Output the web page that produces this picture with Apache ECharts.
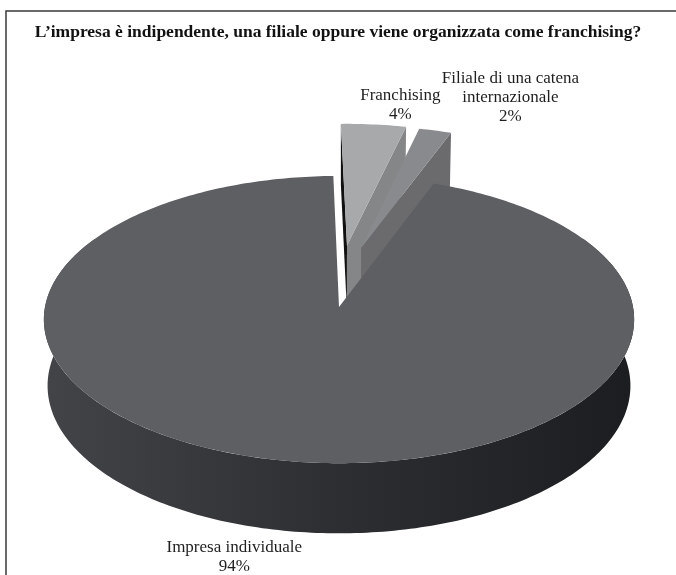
<!DOCTYPE html>
<html>
<head>
<meta charset="utf-8">
<script src="https://cdn.jsdelivr.net/npm/echarts@6/dist/echarts.min.js"></script>
<style>
  html, body { margin: 0; padding: 0; background: #ffffff; }
  #chart { width: 676px; height: 575px; }
</style>
</head>
<body>
<div id="chart"></div>
<script>
// ---- data ----
const titleText = 'L\u2019impresa è indipendente, una filiale oppure viene organizzata come franchising?';
const categories = ['Impresa individuale', 'Franchising', 'Filiale di una catena\ninternazionale'];
const shares = [94, 4, 2];
const exploded = [false, true, true];

// ---- look of the 3D pie ----
const VIEW = {
  cx: 339, cy: 307,      // screen position of the disc centre (top face)
  radius: 294,           // screen scale of a unit radius
  tilt: 29,              // elevation of the viewer, degrees
  focal: 10,             // perspective distance, in radii
  thickness: 0.26,       // disc height, in radii
  firstAngle: 20.4,      // where the first slice starts, degrees clockwise from the back
  explode: 0.45,         // distance pulled out for exploded slices, in radii
  explodeSpread: 0.6     // how much of the sideways component of the pull-out is kept
};
const topColors = ['#5e5f63', '#a8a9ab', '#898a8d'];
const sideStops = [
  { offset: 0, color: '#434448' },
  { offset: 0.5, color: '#2d2e31' },
  { offset: 1, color: '#1c1d20' }
];
const labelNudge = [[-46, 9], [23, -3], [65, -17]];
const labelFont = '17px "Liberation Serif", "Times New Roman", serif';

const rad = d => d * Math.PI / 180;
const sT = Math.sin(rad(VIEW.tilt)), cT = Math.cos(rad(VIEW.tilt));
const cam = { x: 0, z: -VIEW.focal * cT };

// X right, Y up, Z away from the viewer
function proj(X, Y, Z) {
  const yv = Y * cT + Z * sT;
  const d = Z * cT - Y * sT;
  const p = VIEW.focal / (VIEW.focal + d);
  return [VIEW.cx + VIEW.radius * X * p, VIEW.cy - VIEW.radius * yv * p];
}

function shade(hex, k) {
  const n = parseInt(hex.slice(1), 16);
  const c = [(n >> 16) & 255, (n >> 8) & 255, n & 255].map(v => Math.max(0, Math.min(255, Math.round(v * k))));
  return 'rgb(' + c.join(',') + ')';
}

function arc(a1, a2) {
  const steps = Math.max(2, Math.ceil(a2 - a1));
  const out = [];
  for (let s = 0; s <= steps; s++) out.push(a1 + (a2 - a1) * s / steps);
  return out;
}

// slice angles from the shares
const total = shares.reduce((a, b) => a + b, 0);
const geom = [];
let acc = 0;
shares.forEach((v, i) => {
  const a1 = VIEW.firstAngle + acc / total * 360;
  acc += v;
  const a2 = VIEW.firstAngle + acc / total * 360;
  const mid = (a1 + a2) / 2;
  const e = exploded[i] ? VIEW.explode : 0;
  geom.push({
    a1, a2, mid,
    ex: e * Math.sin(rad(mid)) * VIEW.explodeSpread,
    ez: e * Math.cos(rad(mid))
  });
});
// far slices are painted first
const order = geom.map((g, i) => i).sort((a, b) =>
  (geom[b].ez + Math.cos(rad(geom[b].mid))) - (geom[a].ez + Math.cos(rad(geom[a].mid))));

function renderItem(params, api) {
  const i = params.dataIndex;
  const g = geom[i];
  const base = order.indexOf(i) * 10;
  const H = -VIEW.thickness;
  const P = (r, a, y) => proj(g.ex + r * Math.sin(rad(a)), y, g.ez + r * Math.cos(rad(a)));
  const children = [];

  // curved outer wall (front part only)
  const w1 = Math.max(g.a1, 60), w2 = Math.min(g.a2, 300);
  if (w2 > w1) {
    const pts = arc(w1, w2).map(a => P(1, a, 0))
      .concat(arc(w1, w2).reverse().map(a => P(1, a, H)));
    children.push({
      type: 'polygon', z2: base,
      shape: { points: pts },
      style: { fill: new echarts.graphic.LinearGradient(0, 0, 1, 0, sideStops) }
    });
  }

  // radial walls facing the viewer
  [[g.a1, -1], [g.a2, 1]].forEach(([a, sgn]) => {
    const nx = sgn * Math.cos(rad(a)), nz = -sgn * Math.sin(rad(a));
    const mx = g.ex + 0.5 * Math.sin(rad(a)), mz = g.ez + 0.5 * Math.cos(rad(a));
    if (nx * (cam.x - mx) + nz * (cam.z - mz) <= 0) return;
    children.push({
      type: 'polygon', z2: base + 1,
      shape: { points: [P(0, a, 0), P(1, a, 0), P(1, a, H), P(0, a, H)] },
      style: { fill: shade(topColors[i], 0.45 + 0.35 * nx) }
    });
  });

  // top face
  children.push({
    type: 'polygon', z2: base + 2,
    shape: { points: [P(0, g.a1, 0)].concat(arc(g.a1, g.a2).map(a => P(1, a, 0))) },
    style: { fill: topColors[i] }
  });

  // label: name and share, placed off the slice's outer edge
  const front = Math.cos(rad(g.mid)) < 0;
  const anchor = front ? P(1.1, g.mid, H) : P(1.15, g.mid, 0);
  children.push({
    type: 'text', z2: 200,
    style: {
      text: categories[i] + '\n' + shares[i] + '%',
      x: anchor[0] + labelNudge[i][0],
      y: anchor[1] + labelNudge[i][1],
      align: 'center', verticalAlign: 'middle',
      font: labelFont, lineHeight: 19, fill: '#1e1e1e'
    }
  });

  return { type: 'group', children };
}

const chart = echarts.init(document.getElementById('chart'), null, { renderer: 'canvas' });
chart.setOption({
  animation: false,
  backgroundColor: '#ffffff',
  title: {
    text: titleText,
    left: 'center', top: 23, padding: 0,
    textStyle: { fontFamily: '"Liberation Serif", "Times New Roman", serif', fontWeight: 'bold', fontSize: 17.5, color: '#111111' }
  },
  graphic: [{
    type: 'rect', silent: true,
    shape: { x: 6, y: 11, width: 720, height: 620 },
    style: { fill: 'none', stroke: '#3a3a3a', lineWidth: 1.5 }
  }],
  series: [{
    type: 'custom',
    coordinateSystem: 'none',
    silent: true,
    renderItem: renderItem,
    data: shares.map((v, i) => ({ value: v, name: categories[i] }))
  }]
});
</script>
</body>
</html>
